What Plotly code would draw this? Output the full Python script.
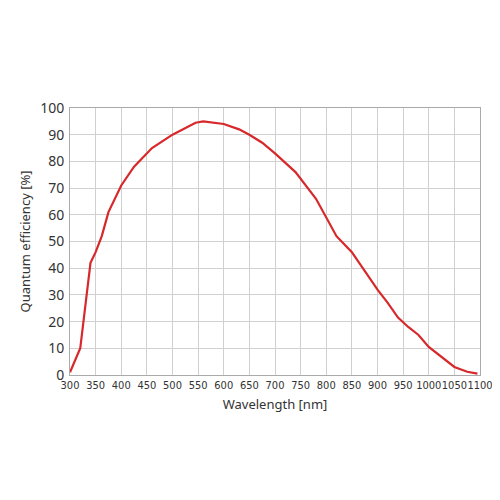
import plotly.graph_objects as go

# wavelength [nm] and quantum efficiency [%]
wavelength = [300, 320, 340, 350, 362, 375, 400, 425, 460, 500, 545, 560, 600,
              630, 650, 675, 700, 740, 780, 820, 830, 850, 875, 900, 920, 940,
              960, 980, 1000, 1030, 1050, 1075, 1095]
qe = [1, 10, 42, 46, 52, 61, 71, 78, 85, 90, 94.5, 95, 94,
      92, 90, 87, 83, 76, 66, 52, 50, 46, 39, 32, 27, 21.5,
      18, 15, 10.5, 6, 3, 1.2, 0.5]

x_ticks = list(range(300, 1101, 50))
y_ticks = list(range(0, 101, 10))

fig = go.Figure()
fig.add_trace(go.Scatter(x=wavelength, y=qe, mode="lines",
                         line=dict(color="#d7282b", width=2.2), showlegend=False))

fig.update_layout(
    width=500, height=500,
    margin=dict(l=62, r=28, t=100, b=133),
    paper_bgcolor="white", plot_bgcolor="white",
    font=dict(family="Noto Sans", color="#333", size=14),
    xaxis=dict(range=[300, 1100], tickvals=x_ticks, showgrid=True, gridcolor="#d0d0d0",
               zeroline=False, showline=True, linecolor="#aaa", mirror=True,
               tickangle=0, automargin=False,
               title=dict(text="Wavelength [nm]", font=dict(size=13), standoff=8),
               tickfont=dict(family="DejaVu Sans Condensed", size=11)),
    yaxis=dict(range=[0, 100], tickvals=y_ticks, showgrid=True, gridcolor="#d0d0d0",
               zeroline=False, showline=True, linecolor="#aaa", mirror=True,
               automargin=False, ticklabelstandoff=2,
               title=dict(text="Quantum efficiency [%]", font=dict(size=13), standoff=6),
               tickfont=dict(size=14)),
)

fig.write_html("out.html")
